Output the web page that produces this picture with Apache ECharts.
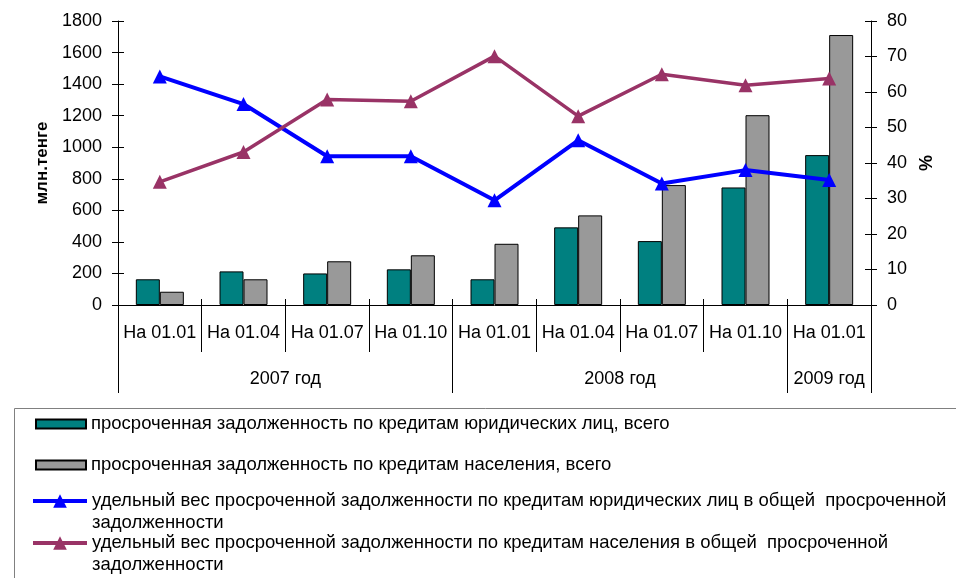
<!DOCTYPE html>
<html><head><meta charset="utf-8">
<script src="https://cdn.jsdelivr.net/npm/echarts@6/dist/echarts.min.js"></script>
<style>html,body{margin:0;padding:0;background:#fff}#c{width:956px;height:578px}</style>
</head><body><div id="c"></div>
<script>
// ---- data ----
const categories = ['На 01.01','На 01.04','На 01.07','На 01.10','На 01.01','На 01.04','На 01.07','На 01.10','На 01.01'];
const years = ['2007 год','2008 год','2009 год'];
const yearSpans = [4, 4, 1];
const legalOverdue = [163, 213, 200, 226, 163, 492, 405, 745, 950];
const retailOverdue = [84, 163, 277, 315, 388, 568, 760, 1203, 1711];
const legalShare = [64.4, 56.6, 41.9, 41.9, 29.5, 46.4, 34.2, 38.0, 35.2];
const retailShare = [34.7, 43.1, 57.9, 57.4, 70.1, 53.2, 65.0, 61.9, 63.8];
const seriesNames = [
  'просроченная задолженность по кредитам юридических лиц, всего',
  'просроченная задолженность по кредитам населения, всего',
  'удельный вес просроченной задолженности по кредитам юридических лиц в общей  просроченной задолженности',
  'удельный вес просроченной задолженности по кредитам населения в общей  просроченной задолженности'
];
const leftAxis = {min: 0, max: 1800, interval: 200};
const rightAxis = {min: 0, max: 80, interval: 10};

// ---- derived ----
const yearBounds = [0];
yearSpans.forEach(s => yearBounds.push(yearBounds[yearBounds.length - 1] + s));
const yearCenters = yearSpans.map((s, i) => yearBounds[i] + s / 2);

const FONT = '"Liberation Sans", Arial, sans-serif';
const BLACK = '#000';
const gridRect = {left: 118, right: 85, top: 21, bottom: 273};
const chart = echarts.init(document.getElementById('c'), null, {renderer: 'canvas'});

function wrapName(n) {
  const m = n.match(/^(.*) (задолженности)$/);
  return m ? '\n' + m[1] + '\n' + m[2] : n;
}
const legendTops = [413, 454, 468, 510];
const legends = seriesNames.map((n, i) => ({
  data: [n],
  orient: 'vertical',
  left: i < 2 ? 35 : 31,
  top: i < 2 ? legendTops[i] : legendTops[i],
  padding: 0,
  itemWidth: i < 2 ? 50 : 54,
  itemHeight: i < 2 ? 9 : 17,
  icon: i < 2 ? 'rect' : undefined,
  lineStyle: i < 2 ? undefined : {width: 4},
  selectedMode: false,
  formatter: wrapName,
  textStyle: {fontFamily: FONT, fontSize: 18.5, color: BLACK, lineHeight: 22}
}));

const option = {
  animation: false,
  backgroundColor: '#fff',
  textStyle: {fontFamily: FONT},
  graphic: [{
    type: 'rect', shape: {x: 14.5, y: 408.5, width: 1000, height: 300},
    style: {fill: 'none', stroke: '#808080', lineWidth: 1}, z: -1
  }],
  legend: legends,
  grid: [
    Object.assign({}, gridRect),
    Object.assign({}, gridRect),
    Object.assign({}, gridRect)
  ],
  xAxis: [
    {
      gridIndex: 0, type: 'category', data: categories, position: 'bottom',
      axisLine: {show: true, lineStyle: {color: BLACK, width: 1}},
      axisTick: {show: true, interval: 0, length: 47, lineStyle: {color: BLACK}},
      axisLabel: {interval: 0, margin: 19, fontSize: 18, color: BLACK, fontFamily: FONT},
      splitLine: {show: false}
    },
    {
      gridIndex: 1, type: 'value', min: 0, max: categories.length, position: 'bottom',
      axisLine: {show: false},
      axisTick: {show: true, customValues: yearBounds, length: 88, lineStyle: {color: BLACK}},
      axisLabel: {show: true, customValues: yearCenters, margin: 65, fontSize: 18, color: BLACK, fontFamily: FONT,
        formatter: v => years[yearCenters.indexOf(v)]},
      splitLine: {show: false}
    },
    {
      gridIndex: 2, type: 'category', data: categories, position: 'bottom',
      axisLine: {show: false},
      axisTick: {show: true, inside: true, interval: 0, length: 6, lineStyle: {color: BLACK}},
      axisLabel: {show: false},
      splitLine: {show: false}
    }
  ],
  yAxis: [
    {
      gridIndex: 0, type: 'value', position: 'left',
      min: leftAxis.min, max: leftAxis.max, interval: leftAxis.interval,
      axisLine: {show: true, lineStyle: {color: BLACK}},
      axisTick: {show: true, length: 6, lineStyle: {color: BLACK}},
      axisLabel: {margin: 16, fontSize: 18, color: BLACK, fontFamily: FONT, formatter: v => String(v)},
      splitLine: {show: false},
      name: 'млн.тенге', nameLocation: 'middle', nameRotate: 90, nameGap: 62,
      nameTextStyle: {fontSize: 17, fontWeight: 'bold', color: BLACK, fontFamily: FONT}
    },
    {
      gridIndex: 0, type: 'value', position: 'right',
      min: rightAxis.min, max: rightAxis.max, interval: rightAxis.interval,
      axisLine: {show: true, lineStyle: {color: BLACK}},
      axisTick: {show: true, length: 6, lineStyle: {color: BLACK}},
      axisLabel: {margin: 16, fontSize: 18, color: BLACK, fontFamily: FONT, formatter: v => String(v)},
      splitLine: {show: false},
      name: '%', nameLocation: 'middle', nameRotate: 90, nameGap: 46,
      nameTextStyle: {fontSize: 18, fontWeight: 'bold', color: BLACK, fontFamily: FONT}
    },
    {
      gridIndex: 1, type: 'value', position: 'left',
      min: leftAxis.min, max: leftAxis.max, interval: leftAxis.interval,
      axisLine: {show: false},
      axisTick: {show: true, inside: true, length: 6, lineStyle: {color: BLACK}},
      axisLabel: {show: false}, splitLine: {show: false}
    },
    {
      gridIndex: 1, type: 'value', position: 'right',
      min: rightAxis.min, max: rightAxis.max, interval: rightAxis.interval,
      axisLine: {show: false},
      axisTick: {show: true, inside: true, length: 6, lineStyle: {color: BLACK}},
      axisLabel: {show: false}, splitLine: {show: false}
    },
    {
      gridIndex: 2, type: 'value', show: false
    }
  ],
  series: [
    {
      name: seriesNames[0], type: 'bar', xAxisIndex: 0, yAxisIndex: 0,
      data: legalOverdue, barWidth: 24, barGap: '0%',
      itemStyle: {color: '#008080', borderColor: BLACK, borderWidth: 1}
    },
    {
      name: seriesNames[1], type: 'bar', xAxisIndex: 0, yAxisIndex: 0,
      data: retailOverdue, barWidth: 24, barGap: '0%',
      itemStyle: {color: '#999999', borderColor: BLACK, borderWidth: 1}
    },
    {
      name: seriesNames[2], type: 'line', xAxisIndex: 0, yAxisIndex: 1,
      data: legalShare, symbol: 'triangle', symbolSize: 14, z: 5,
      lineStyle: {color: '#0000FF', width: 4},
      itemStyle: {color: '#0000FF', borderWidth: 0}
    },
    {
      name: seriesNames[3], type: 'line', xAxisIndex: 0, yAxisIndex: 1,
      data: retailShare, symbol: 'triangle', symbolSize: 14, z: 5,
      lineStyle: {color: '#993366', width: 3.5},
      itemStyle: {color: '#993366', borderWidth: 0}
    }
  ]
};
chart.setOption(option);
</script>
</body></html>
